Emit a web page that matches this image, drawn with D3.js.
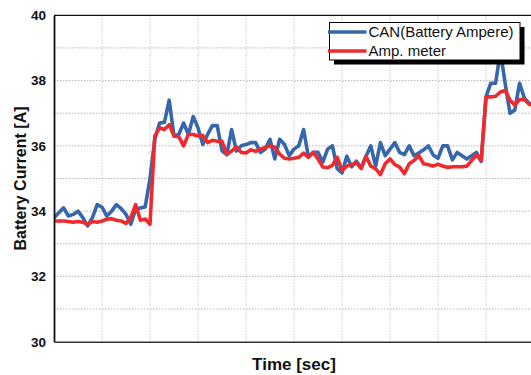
<!DOCTYPE html>
<html>
<head>
<meta charset="utf-8">
<script src="https://cdn.jsdelivr.net/npm/d3@7"></script>
<style>
  html, body { margin: 0; padding: 0; background: #fff; }
  svg { display: block; }
  text { font-family: "Liberation Sans", Arial, sans-serif; }
</style>
</head>
<body>
<svg id="chart" width="531" height="375"></svg>
<script>
// ---- data ----
const seriesNames = ["CAN(Battery Ampere)", "Amp. meter"];
const yTickLabels = [30, 32, 34, 36, 38, 40];
const canValues = [
  33.8, 33.95, 34.1, 33.85, 33.9, 34.0, 33.8, 33.55, 33.8, 34.2,
  34.12, 33.85, 34.0, 34.2, 34.08, 33.9, 33.6, 34.05, 34.1, 34.13,
  35.0, 36.2, 36.7, 36.72, 37.4, 36.3, 36.35, 36.7, 36.35, 36.9,
  36.55, 36.04, 36.35, 36.62, 36.62, 35.85, 35.73, 36.5, 35.84, 36.0,
  36.04, 36.1, 36.1, 35.8, 35.9, 36.2, 35.6, 36.2, 36.05, 35.7,
  35.9, 36.0, 36.5, 35.66, 35.8, 35.8, 35.5, 35.9, 36.0, 35.3,
  35.17, 35.68, 35.36, 35.53, 35.33, 35.68, 36.0, 35.38, 36.1, 35.7,
  35.9, 36.1, 35.8, 35.73, 36.0, 35.7, 35.78, 35.88, 36.0, 35.72,
  35.62, 36.0, 36.0, 35.57, 35.8, 35.7, 35.6, 35.7, 35.8, 35.52,
  37.5, 37.92, 37.92, 38.9, 37.9, 37.0, 37.1, 37.92, 37.46, 37.3,
  37.3
];
const ampValues = [
  33.7, 33.7, 33.7, 33.68, 33.66, 33.68, 33.66, 33.6, 33.68, 33.66,
  33.7, 33.75, 33.77, 33.72, 33.7, 33.62, 33.8, 34.2, 33.72, 33.76,
  33.6, 36.3, 36.55, 36.5, 36.65, 36.3, 36.28, 36.0, 36.35, 36.35,
  36.3, 36.32, 36.1, 36.17, 36.14, 36.14, 35.73, 35.84, 35.97, 35.8,
  35.78, 35.88, 35.83, 35.9, 35.95, 36.0, 35.96, 35.75, 35.62, 35.6,
  35.62, 35.65, 35.78, 35.65, 35.8, 35.6, 35.35, 35.33, 35.4, 35.65,
  35.25, 35.38, 35.43, 35.48, 35.3, 35.68, 35.38, 35.3, 35.12, 35.45,
  35.6, 35.43, 35.35, 35.15, 35.45, 35.55, 35.7, 35.45, 35.42, 35.38,
  35.44, 35.38, 35.34, 35.36, 35.36, 35.36, 35.38, 35.55, 35.72, 35.55,
  37.5, 37.5, 37.52, 37.65, 37.7, 37.4, 37.25, 37.42, 37.42, 37.28,
  37.22
];
const sampleIndex = canValues.map((d, i) => i);
const colors = ["#3567aa", "#ee2a2e"];

// ---- layout ----
const svg = d3.select("#chart");
const mLeft = 54, mRight = 534, mTop = 15.3, mBottom = 341.7;

const x = d3.scaleLinear().domain([0, 100]).range([mLeft, mRight]);
const y = d3.scaleLinear().domain([30, 40]).range([mBottom, mTop]);

svg.append("defs").append("clipPath").attr("id", "plotclip")
  .append("rect").attr("x", mLeft).attr("y", mTop).attr("width", mRight - mLeft).attr("height", mBottom - mTop);

// gridlines
const grid = svg.append("g");
grid.selectAll("line.h").data(d3.range(31, 40)).enter().append("line")
  .attr("x1", mLeft).attr("x2", mRight)
  .attr("y1", d => y(d)).attr("y2", d => y(d))
  .attr("stroke", "#b5b5b5").attr("stroke-width", 1).attr("stroke-dasharray", "1.5,1.5");
grid.selectAll("line.v").data(d3.range(10, 100, 10)).enter().append("line")
  .attr("x1", d => x(d)).attr("x2", d => x(d))
  .attr("y1", mTop).attr("y2", mBottom)
  .attr("stroke", "#c8c8c8").attr("stroke-width", 1).attr("stroke-dasharray", "1.5,1.5");

// top border
svg.append("line").attr("x1", mLeft).attr("x2", 531).attr("y1", mTop).attr("y2", mTop)
  .attr("stroke", "#111").attr("stroke-width", 1.2);

// series
const line = d3.line().x((d, i) => x(sampleIndex[i])).y(d => y(d));
const gLines = svg.append("g").attr("clip-path", "url(#plotclip)");
[canValues, ampValues].forEach((vals, k) => {
  gLines.append("path").datum(vals)
    .attr("d", line)
    .attr("fill", "none")
    .attr("stroke", colors[k])
    .attr("stroke-width", 3.6)
    .attr("stroke-linejoin", "round");
});

// axes
const yAxis = d3.axisLeft(y).tickValues(yTickLabels).tickSize(0).tickPadding(8).tickFormat(d3.format("d"));
const gy = svg.append("g").attr("transform", `translate(${mLeft},0)`).call(yAxis);
gy.select(".domain").attr("stroke", "#111").attr("stroke-width", 1.8);
gy.selectAll("text").attr("font-size", 13.5).attr("font-weight", "bold").attr("fill", "#111")
  .attr("font-family", "'Liberation Sans', Arial, sans-serif");

const xAxis = d3.axisBottom(x).tickValues([]).tickSize(0);
const gx = svg.append("g").attr("transform", `translate(0,${mBottom})`).call(xAxis);
gx.select(".domain").attr("stroke", "#333").attr("stroke-width", 1.6);

// axis titles
svg.append("text")
  .attr("x", (mLeft + mRight) / 2).attr("y", 369.5)
  .attr("text-anchor", "middle")
  .attr("font-size", 17).attr("font-weight", "bold").attr("fill", "#111")
  .text("Time [sec]");
svg.append("text")
  .attr("transform", `translate(26,${(mTop + mBottom) / 2}) rotate(-90)`)
  .attr("text-anchor", "middle")
  .attr("font-size", 16).attr("font-weight", "bold").attr("fill", "#111")
  .text("Battery Current [A]");

// legend
const lg = svg.append("g");
const lx = 329.5, ly = 22.5, lw = 190.5, lh = 37.5;
lg.append("rect").attr("x", lx + 4.5).attr("y", ly + 4.5).attr("width", lw).attr("height", lh).attr("fill", "#000");
lg.append("rect").attr("x", lx).attr("y", ly).attr("width", lw).attr("height", lh)
  .attr("fill", "#fff").attr("stroke", "#000").attr("stroke-width", 1);
seriesNames.forEach((name, k) => {
  const yy = ly + 9.5 + k * 19;
  lg.append("line").attr("x1", lx - 1.5).attr("x2", lx + 37).attr("y1", yy).attr("y2", yy)
    .attr("stroke", colors[k]).attr("stroke-width", 3.6);
  lg.append("text").attr("x", lx + 39).attr("y", yy).attr("dy", "0.36em")
    .attr("font-size", 15).attr("fill", "#111").text(name);
});
</script>
</body>
</html>
